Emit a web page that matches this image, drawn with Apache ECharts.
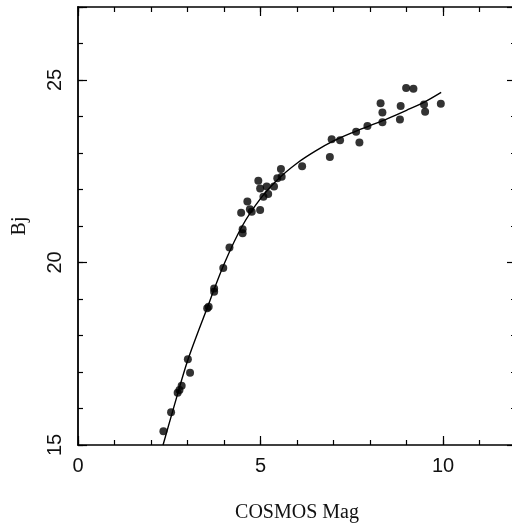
<!DOCTYPE html>
<html>
<head>
<meta charset="utf-8">
<script src="https://cdn.jsdelivr.net/npm/echarts@6/dist/echarts.min.js"></script>
<style>html,body{margin:0;padding:0;background:#fff}#c{width:512px;height:532px}</style>
</head>
<body>
<div id="c"></div>
<script>
// Observed points: COSMOS Mag (x) vs Bj (y)
const pointX = [2.34,2.55,2.73,2.78,2.84,3.01,3.07,3.54,3.58,3.73,3.73,3.98,4.15,4.51,4.51,4.47,4.64,4.71,4.76,4.99,4.94,4.99,5.17,5.37,5.08,5.21,5.46,5.58,5.56,6.14,6.90,6.95,7.18,7.62,7.71,7.93,8.34,8.34,8.29,8.84,8.82,8.99,9.19,9.48,9.51,9.94];
const pointY = [15.38,15.90,16.43,16.51,16.62,17.35,16.98,18.75,18.79,19.29,19.20,19.85,20.41,20.91,20.80,21.36,21.67,21.46,21.39,21.44,22.24,22.03,22.08,22.08,21.80,21.88,22.31,22.35,22.56,22.64,22.89,23.38,23.35,23.58,23.29,23.74,23.84,24.11,24.36,24.29,23.92,24.78,24.76,24.33,24.13,24.35];
// Fitted calibration curve
const curveX = [2.33,2.6,3.0,3.5,4.0,4.5,5.0,5.5,6.0,6.5,7.0,7.5,8.0,8.5,9.0,9.5,9.95];
const curveY = [15.0,15.95,17.3,18.65,19.95,21.0,21.75,22.3,22.72,23.05,23.33,23.55,23.75,23.95,24.17,24.4,24.66];
const xLabels = [0,5,10];
const yLabels = [15,20,25];

const points = pointX.map((x,i)=>[x,pointY[i]]);
const curve = curveX.map((x,i)=>[x,curveY[i]]);

const black = '#000';
const lblFont = {fontFamily:'Liberation Sans', fontSize:20, color:'#111'};
function xAx(pos, interval, len, withLine, withLabel, extra){
  return Object.assign({
    type:'value', position:pos, min:0, max:12, interval:interval,
    axisLine:{show:withLine, onZero:false, lineStyle:{color:black, width:1.5}},
    axisTick:{show:true, inside:true, length:len, lineStyle:{color:black, width:1.2}},
    axisLabel:{show:withLabel, margin:11, ...lblFont,
      formatter:v=> xLabels.includes(v) ? String(v) : ''},
    splitLine:{show:false}
  }, extra||{});
}
function yAx(pos, interval, len, withLine, withLabel, extra){
  return Object.assign({
    type:'value', position:pos, min:15, max:27, interval:interval,
    axisLine:{show:withLine, onZero:false, lineStyle:{color:black, width:1.8}},
    axisTick:{show:true, inside:true, length:len, lineStyle:{color:black, width:1.2}},
    axisLabel:{show:withLabel, rotate:90, margin:13, ...lblFont,
      formatter:v=> yLabels.includes(v) ? String(v) : ''},
    splitLine:{show:false}
  }, extra||{});
}

const chart = echarts.init(document.getElementById('c'), null, {renderer:'canvas'});
chart.setOption({
  animation:false,
  backgroundColor:'#fff',
  grid:{left:78, top:7, width:438, height:438, outerBoundsMode:'none', containLabel:false},
  xAxis:[
    xAx('bottom',1,5,true,true,{name:'COSMOS Mag', nameLocation:'middle', nameGap:58,
      nameTextStyle:{fontFamily:'Liberation Serif', fontSize:20, color:'#111'}}),
    xAx('bottom',5,9,false,false),
    xAx('top',1,5,true,false),
    xAx('top',5,9,false,false)
  ],
  yAxis:[
    yAx('left',1,5,true,true,{name:'Bj', nameLocation:'middle', nameGap:48, nameRotate:90,
      nameTextStyle:{fontFamily:'Liberation Serif', fontSize:20, color:'#111'}}),
    yAx('left',5,9,false,false),
    yAx('right',1,5,true,false),
    yAx('right',5,9,false,false)
  ],
  series:[
    {type:'line', data:curve, smooth:0.3, showSymbol:false, symbol:'none',
      xAxisIndex:0, yAxisIndex:0, lineStyle:{color:black, width:1.4}, z:2},
    {type:'scatter', data:points, symbol:'circle', symbolSize:8,
      xAxisIndex:0, yAxisIndex:0, itemStyle:{color:black}, z:3}
  ]
});
</script>
</body>
</html>
